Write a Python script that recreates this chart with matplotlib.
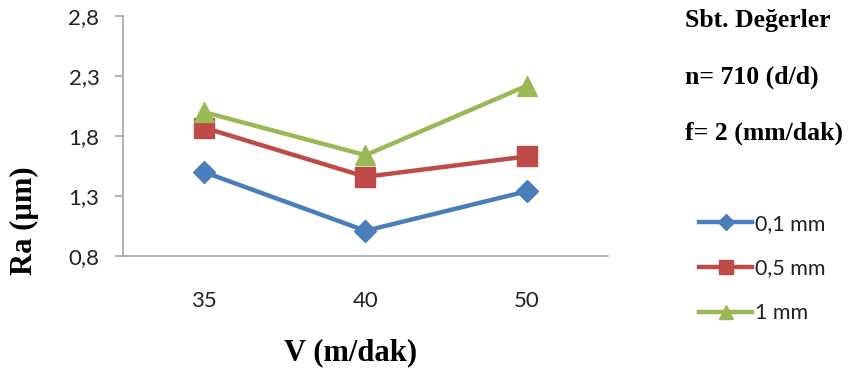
import matplotlib
matplotlib.use('Agg')
from matplotlib import pyplot as plt
from matplotlib.ticker import FuncFormatter

# cutting speed categories and surface roughness per depth of cut
speeds = ['35', '40', '50']
ra_01 = [1.50, 1.01, 1.34]
ra_05 = [1.87, 1.46, 1.63]
ra_1 = [2.00, 1.64, 2.22]
series_labels = ['0,1 mm', '0,5 mm', '1 mm']
y_ticks = [0.8, 1.3, 1.8, 2.3, 2.8]
notes = ['Sbt. Değerler', 'n= 710 (d/d)', 'f= 2 (mm/dak)']

fig = plt.figure(figsize=(8.53, 3.76), dpi=100)
ax = fig.add_axes([123/853, 1 - 256/376, (608 - 123)/853, 240/376])

x = range(len(speeds))
ax.plot(x, ra_01, color='#4A7EBB', lw=3.2, marker='D', ms=11, label=series_labels[0])
ax.plot(x, ra_05, color='#BE4B48', lw=3.2, marker='s', ms=14, label=series_labels[1])
ax.plot(x, ra_1, color='#98B954', lw=3.2, marker='^', ms=15, label=series_labels[2])

ax.set_xlim(-0.5, len(speeds) - 0.5)
ax.set_ylim(0.8, 2.8)
ax.set_xticks(list(x))
ax.set_xticklabels(speeds)
ax.set_yticks(y_ticks)
ax.yaxis.set_major_formatter(FuncFormatter(lambda v, p: f'{v:.1f}'.replace('.', ',')))

for s in ['top', 'right']:
    ax.spines[s].set_visible(False)
for s in ['left', 'bottom']:
    ax.spines[s].set_color('#A6A6A6')
    ax.spines[s].set_linewidth(1.2)

ax.tick_params(axis='y', length=6, width=1.2, color='#A6A6A6', pad=11,
               labelsize=16, labelcolor='#222222')
ax.tick_params(axis='x', length=0, pad=25, labelsize=16, labelcolor='#222222')
for lab in ax.get_xticklabels() + ax.get_yticklabels():
    lab.set_family('Lato')

fig.text(351/853, 1 - 353/376, 'V (m/dak)', family='Liberation Serif',
         weight='bold', fontsize=22, ha='center', va='center')
fig.text(24/853, 1 - 221/376, 'Ra (µm)', family='Liberation Serif',
         weight='bold', fontsize=22, ha='center', va='center', rotation=90)

for i, t in enumerate(notes):
    fig.text(685/853, 1 - (21 + 56*i)/376, t, family='Liberation Serif',
             weight='bold', fontsize=18.5, ha='left', va='center')

leg = ax.legend(loc='upper left', bbox_to_anchor=(690/853, 1 - 205/376),
                bbox_transform=fig.transFigure, frameon=False,
                prop={'family': 'Lato', 'size': 15.5}, handlelength=2.5,
                handletextpad=0.1, labelspacing=1.15, borderaxespad=0,
                markerscale=0.7)
for txt in leg.get_texts():
    txt.set_color('#222222')

fig.savefig('out.png', dpi=100)
